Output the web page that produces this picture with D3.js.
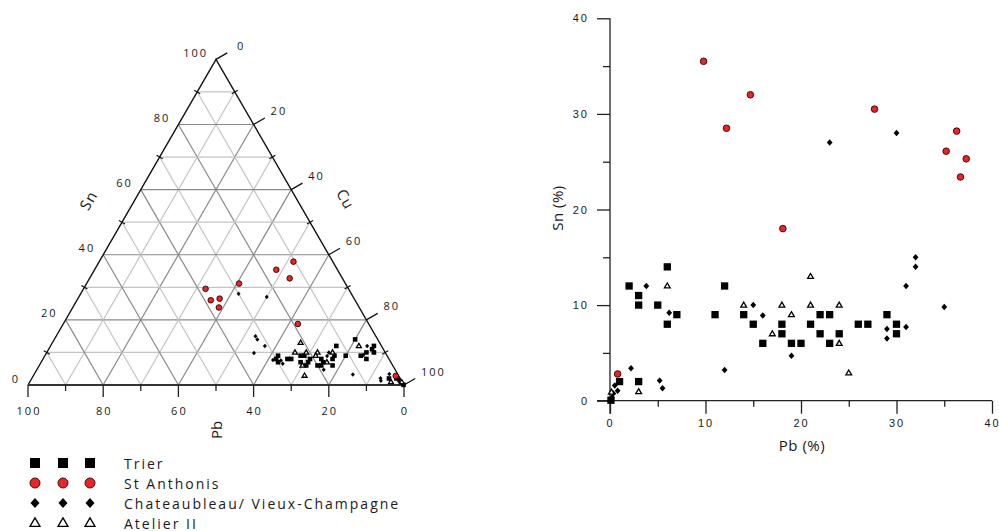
<!DOCTYPE html>
<html>
<head>
<meta charset="utf-8">
<script src="https://cdn.jsdelivr.net/npm/d3@7"></script>
<style>
  body { margin: 0; background: #fff; }
  svg { font-family: "Open Sans", "DejaVu Sans", sans-serif; }
  text { fill: #1a1a1a; }
  .tick text, .lab { font-size: 11px; letter-spacing: 2px; fill: #1a1a1a; }
</style>
</head>
<body>
<div id="chart"></div>
<script>
// Pb (%) and Sn (%) per sample, Cu is the rest unless given as third value
const trier = [[2,12],[3,11],[3,10],[5,10],[6,14],[6,8],[7,9],[1,2],[3,2],[0.1,0.05],
  [11,9],[12,12],[14,9],[15,8],[16,6],[18,8],[18,7],[19,6],[20,6],[21,8],[22,9],[22,7],
  [23,9],[23,6],[24,7],[26,8],[27,8],[29,9],[30,8],[30,7]];
const stAnthonis = [[9.8,35.5,48.4],[12.2,28.5,46.3],[14.7,32,43.7],[18.1,18,59.9],
  [27.7,30.5,39.7],[35.2,26.1,37.1],[36.3,28.2,31],[36.7,23.4,38.2],[37.3,25.3,34.6],
  [0.8,2.8,96.4]];
const chateaubleau = [[3.8,12],[6.2,9.2],[2.2,3.4],[5.2,2.1],[5.5,1.3],[0.8,1.05],[0.5,1.6],
  [0.35,0.75],[0.2,0.3],[12,3.2],[15,10],[16,8.9],[19,4.7],[23,27],[30,28],[29,7.5],[29,6.5],
  [31,12],[31,7.7],[32,15],[32,14],[35,9.8]];
const atelier = [[6,12],[3,0.95],[0.15,0.9],[14,10],[17,7],[18,10],[19,9],[21,13],[21,10],
  [24,10],[24,6],[25,2.9]];

const legendNames = ["Trier", "St Anthonis", "Chateaubleau/ Vieux-Champagne", "Atelier II"];
const ternTicks = [0, 10, 20, 30, 40, 50, 60, 70, 80, 90, 100];
const xyTicks = [0, 10, 20, 30, 40];
const xyMinor = [5, 15, 25, 35];

const svg = d3.select("#chart").append("svg")
  .attr("width", 999).attr("height", 531);

// marker drawing
function marker(g, kind, x, y, s) {
  if (kind === "square") {
    g.append("rect").attr("x", x - s / 2).attr("y", y - s / 2)
      .attr("width", s).attr("height", s).attr("fill", "#000");
  } else if (kind === "circle") {
    g.append("circle").attr("cx", x).attr("cy", y).attr("r", s / 2)
      .attr("fill", "#e8262a").attr("stroke", "#300").attr("stroke-width", 0.9);
  } else if (kind === "diamond") {
    const w = s / 2, h = s / 2 * 1.12;
    g.append("path").attr("d", `M${x},${y - h}L${x + w},${y}L${x},${y + h}L${x - w},${y}Z`)
      .attr("fill", "#000");
  } else {
    const h = s * 0.85;
    g.append("path")
      .attr("d", `M${x},${y - h * 0.6}L${x + s / 2},${y + h * 0.4}L${x - s / 2},${y + h * 0.4}Z`)
      .attr("fill", "#fff").attr("stroke", "#000").attr("stroke-width", 1.3);
  }
}

const series = [
  {data: trier, kind: "square"},
  {data: chateaubleau, kind: "diamond"},
  {data: atelier, kind: "triangle"},
  {data: stAnthonis, kind: "circle"}
];

// ---------- ternary diagram ----------
const L = [28, 385], R = [404, 385];
const side = R[0] - L[0];
const T = [(L[0] + R[0]) / 2, L[1] - side * Math.sqrt(3) / 2];
const frac = d3.scaleLinear().domain([0, 100]).range([0, 1]);

// pb, sn, cu in percent, normalised to their sum
function tern(pb, sn, cu) {
  if (cu === undefined) cu = 100 - pb - sn;
  const tot = (pb + sn + cu) / 100;
  const a = frac(pb / tot), b = frac(sn / tot), c = 1 - a - b;
  return [a * L[0] + b * T[0] + c * R[0], a * L[1] + b * T[1] + c * R[1]];
}

const tg = svg.append("g");

// grid lines
ternTicks.filter(k => k > 0 && k < 100).forEach(k => {
  const col = k % 20 === 0 ? "#8a8a8a" : "#c4c4c4";
  const lines = [
    [tern(100 - k, k), tern(0, k)],        // constant Sn
    [tern(k, 0), tern(k, 100 - k)],        // constant Pb
    [tern(100 - k, 0), tern(0, 100 - k)]   // constant Cu
  ];
  lines.forEach(p => {
    tg.append("line").attr("x1", p[0][0]).attr("y1", p[0][1])
      .attr("x2", p[1][0]).attr("y2", p[1][1])
      .attr("stroke", col).attr("stroke-width", 1.2);
  });
});

// edges
tg.append("path")
  .attr("d", `M${L[0]},${L[1]}L${T[0]},${T[1]}L${R[0]},${R[1]}`)
  .attr("fill", "none").attr("stroke", "#111").attr("stroke-width", 1.4);
tg.append("line").attr("x1", L[0]).attr("y1", L[1]).attr("x2", R[0]).attr("y2", R[1])
  .attr("stroke", "#333").attr("stroke-width", 2);

// bottom axis: Pb
ternTicks.forEach(k => {
  const p = tern(k, 0);
  const major = k % 20 === 0;
  tg.append("line").attr("x1", p[0]).attr("x2", p[0])
    .attr("y1", p[1] + (major ? 0 : -1)).attr("y2", p[1] + (major ? 12 : 6))
    .attr("stroke", "#222").attr("stroke-width", 1.3);
  if (major) {
    tg.append("text").attr("class", "lab").attr("x", p[0] + 1).attr("y", p[1] + 25)
      .attr("text-anchor", "middle").attr("dominant-baseline", "central").text(k);
  }
});

// left axis: Sn
const nLeft = [0.866, 0.5];
ternTicks.forEach(k => {
  const p = tern(100 - k, k);
  if (k % 20 !== 0) {
    tg.append("line")
      .attr("x1", p[0] - nLeft[0] * 3.5).attr("y1", p[1] - nLeft[1] * 3.5)
      .attr("x2", p[0] + nLeft[0] * 3.5).attr("y2", p[1] + nLeft[1] * 3.5)
      .attr("stroke", "#111").attr("stroke-width", 1.2);
  } else {
    tg.append("text").attr("class", "lab").attr("x", p[0] - 8).attr("y", p[1] - 7)
      .attr("text-anchor", "end").attr("dominant-baseline", "central").text(k);
  }
});

// right axis: Cu
const nRight = [0.866, -0.5];
ternTicks.forEach(k => {
  const p = tern(0, 100 - k);
  if (k % 20 === 0) {
    tg.append("line").attr("x1", p[0]).attr("y1", p[1])
      .attr("x2", p[0] + nRight[0] * 13).attr("y2", p[1] + nRight[1] * 13)
      .attr("stroke", "#111").attr("stroke-width", 1.3);
    tg.append("text").attr("class", "lab").attr("x", p[0] + (k === 0 ? 21 : 17)).attr("y", p[1] - 14)
      .attr("dominant-baseline", "central").text(k);
  } else {
    tg.append("line")
      .attr("x1", p[0] - nRight[0] * 3.5).attr("y1", p[1] - nRight[1] * 3.5)
      .attr("x2", p[0] + nRight[0] * 3.5).attr("y2", p[1] + nRight[1] * 3.5)
      .attr("stroke", "#111").attr("stroke-width", 1.2);
  }
});

// axis titles
tg.append("text").attr("transform", "translate(88,200) rotate(-60)")
  .attr("text-anchor", "middle").attr("dominant-baseline", "central")
  .style("font-size", "15px").style("letter-spacing", "1px").text("Sn");
tg.append("text").attr("transform", "translate(346,199) rotate(60)")
  .attr("text-anchor", "middle").attr("dominant-baseline", "central")
  .style("font-size", "15px").style("letter-spacing", "1px").text("Cu");
tg.append("text").attr("transform", "translate(216,430) rotate(-90)")
  .attr("text-anchor", "middle").attr("dominant-baseline", "central")
  .style("font-size", "15px").text("Pb");

// points
const ternSize = {square: 4.6, circle: 5.6, diamond: 4, triangle: 5};
series.forEach(s => {
  s.data.forEach(d => {
    const p = tern(d[0], d[1], d[2]);
    marker(tg, s.kind, p[0], p[1], ternSize[s.kind]);
  });
});

// ---------- Pb vs Sn scatter ----------
const x = d3.scaleLinear().domain([0, 40]).range([610, 992]);
const y = d3.scaleLinear().domain([0, 40]).range([400.7, 18.3]);
const sg = svg.append("g");

sg.append("g").attr("transform", `translate(0,${y(0)})`)
  .call(d3.axisBottom(x).tickValues(xyTicks).tickSize(13).tickSizeOuter(0).tickPadding(6))
  .call(g => g.select(".domain").remove());
sg.append("g").attr("transform", `translate(0,${y(0)})`)
  .call(d3.axisBottom(x).tickValues(xyMinor).tickSize(6).tickFormat(""))
  .call(g => g.select(".domain").remove());
sg.append("g").attr("transform", `translate(${x(0)},0)`)
  .call(d3.axisLeft(y).tickValues(xyTicks).tickSize(13).tickSizeOuter(0).tickPadding(8))
  .call(g => g.select(".domain").remove());
sg.append("g").attr("transform", `translate(${x(0)},0)`)
  .call(d3.axisLeft(y).tickValues(xyMinor).tickSize(7).tickFormat(""))
  .call(g => g.select(".domain").remove());
sg.selectAll(".tick line").attr("stroke", "#222").attr("stroke-width", 1.3);

// axis lines run past the origin by one tick length
sg.append("line").attr("x1", x(0) - 13).attr("x2", x(40)).attr("y1", y(0)).attr("y2", y(0))
  .attr("stroke", "#222").attr("stroke-width", 1.3);
sg.append("line").attr("x1", x(0)).attr("x2", x(0)).attr("y1", y(40)).attr("y2", y(0) + 13)
  .attr("stroke", "#222").attr("stroke-width", 1.3);

sg.append("text").attr("x", 802).attr("y", 445)
  .attr("text-anchor", "middle").attr("dominant-baseline", "central")
  .style("font-size", "15px").style("letter-spacing", "0.5px").text("Pb (%)");
sg.append("text").attr("transform", "translate(557,208) rotate(-90)")
  .attr("text-anchor", "middle").attr("dominant-baseline", "central")
  .style("font-size", "15px").style("letter-spacing", "0.5px").text("Sn (%)");

const xySize = {square: 7.3, circle: 6.6, diamond: 5.8, triangle: 5.8};
series.forEach(s => {
  s.data.forEach(d => marker(sg, s.kind, x(d[0]), y(d[1]), xySize[s.kind]));
});

// ---------- legend ----------
const lg = svg.append("g");
const legendKinds = ["square", "circle", "diamond", "triangle"];
const legendSize = {square: 10, circle: 10, diamond: 9, triangle: 10};
legendNames.forEach((name, i) => {
  const cy = 463 + i * 20;
  [35, 63, 90].forEach(cx => marker(lg, legendKinds[i], cx, cy, legendSize[legendKinds[i]]));
  lg.append("text").attr("x", 124).attr("y", cy)
    .attr("dominant-baseline", "central")
    .style("font-size", "14px").style("letter-spacing", "2px")
    .text(name);
});
</script>
</body>
</html>
